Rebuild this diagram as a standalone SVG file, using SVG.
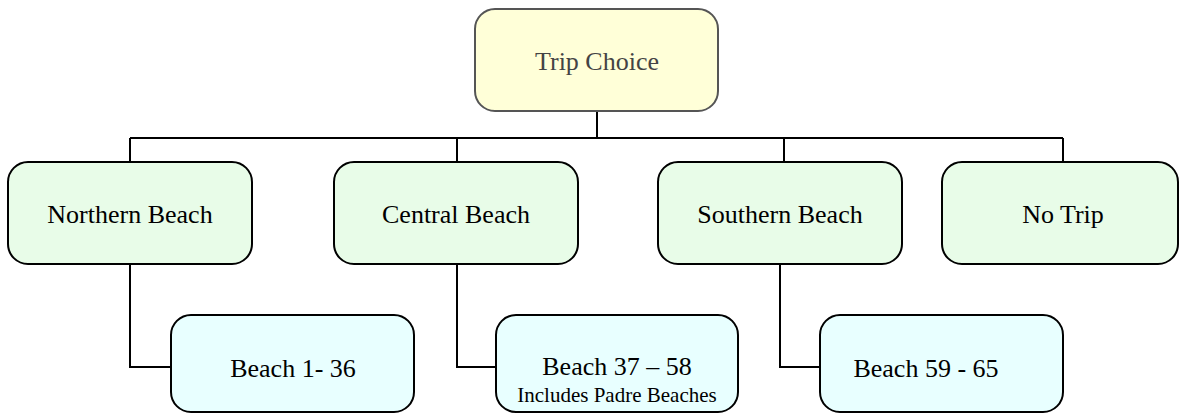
<svg xmlns="http://www.w3.org/2000/svg" width="1180" height="414" viewBox="0 0 1180 414">
<style>
.box{stroke:#000;stroke-width:2}
.root{fill:#ffffd8;stroke:#555;stroke-width:2}
.l1{fill:#e8fce8}
.l2{fill:#e8ffff}
.t{font-family:"Liberation Serif",serif;font-size:26px;fill:#000;text-anchor:middle}
.small{font-size:21px}
.conn{fill:none;stroke:#000;stroke-width:2}
</style>
<rect width="1180" height="414" fill="#fff"/>
<g id="connectors">
<path class="conn" d="M597 111V138M130 138H1063M130 138V162M457 138V162M784 138V162M1063 138V162"/>
<path class="conn" d="M130 264V367H171M457 264V367H496M780 264V367H820"/>
</g>
<g id="trip-choice">
<rect class="root" x="475" y="9" width="243" height="102" rx="20"/>
<text class="t" x="597" y="70" style="fill:#444">Trip Choice</text>
</g>
<g id="northern-beach">
<rect class="box l1" x="8" y="162" width="244" height="102" rx="20"/>
<text class="t" x="130" y="223">Northern Beach</text>
</g>
<g id="central-beach">
<rect class="box l1" x="334" y="162" width="244" height="102" rx="20"/>
<text class="t" x="456" y="223">Central Beach</text>
</g>
<g id="southern-beach">
<rect class="box l1" x="658" y="162" width="244" height="102" rx="20"/>
<text class="t" x="780" y="223">Southern Beach</text>
</g>
<g id="no-trip">
<rect class="box l1" x="942" y="162" width="236" height="102" rx="20"/>
<text class="t" x="1063" y="223">No Trip</text>
</g>
<g id="beach-1-36">
<rect class="box l2" x="171" y="315" width="243" height="97" rx="20"/>
<text class="t" x="293" y="377">Beach 1- 36</text>
</g>
<g id="beach-37-58">
<rect class="box l2" x="496" y="315" width="242" height="97" rx="20"/>
<text class="t" x="617" y="375">Beach 37 – 58</text>
<text class="t small" x="617" y="402">Includes Padre Beaches</text>
</g>
<g id="beach-59-65">
<rect class="box l2" x="820" y="315" width="243" height="97" rx="20"/>
<text class="t" x="926" y="377">Beach 59 - 65</text>
</g>
</svg>
